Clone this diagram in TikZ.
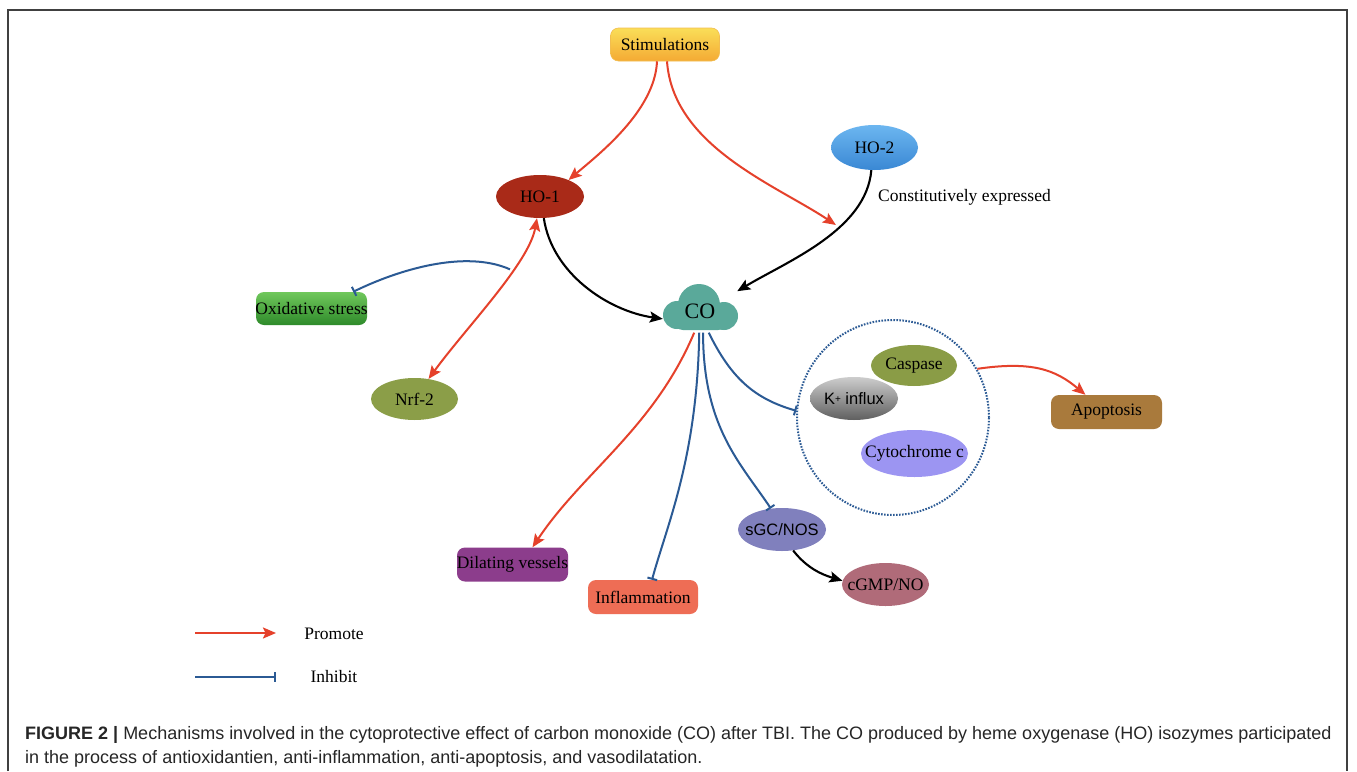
\documentclass[tikz,border=0pt]{standalone}
\usepackage{fontspec}
\setmainfont{Liberation Serif}
\newfontfamily\arialf{Liberation Sans}
\usetikzlibrary{arrows.meta,shapes.geometric,calc}

\definecolor{promo}{HTML}{E5412B}
\definecolor{inhib}{HTML}{2B5A94}
\definecolor{cofill}{HTML}{5AA99A}
\definecolor{captxt}{HTML}{262626}

% label of fixed-size shapes: its width does not enlarge the shape
\newcommand{\fixw}[1]{\makebox[0pt][c]{#1}}

\tikzset{
  lbl/.style={font=\fontsize{17.5}{20}\selectfont, text=black, inner sep=0pt},
  rbox/.style={lbl, rectangle, rounded corners=8pt},
  oval/.style={lbl, ellipse},
  tip/.style={-{Stealth[length=13pt,width=11pt,inset=2.5pt]}},
  promote/.style={draw=promo, line width=2pt, tip},
  inhibit/.style={draw=inhib, line width=2pt, -{Bar[width=10pt,line width=2pt]}},
  plain/.style={draw=black, line width=2.1pt, tip},
}

\begin{document}
\begin{tikzpicture}[x=1pt,y=-1pt]
\useasboundingbox (0,0) rectangle (1357,771);
\fill[white] (0,0) rectangle (1357,771);

% outer frame, open at the bottom
\draw[color=black!75, line width=1.4pt] (8,771) -- (8,10) -- (1347,10) -- (1347,771);

% ---- nodes ----
\node[rbox, minimum width=109pt, minimum height=33pt, top color={rgb,255:red,250;green,222;blue,88}, bottom color={rgb,255:red,244;green,170;blue,52}, draw={rgb,255:red,242;green,190;blue,80}, line width=0.6pt] (stim) at (665,44.5) {Stimulations};
\node[oval, minimum width=88pt, minimum height=43pt, fill={rgb,255:red,169;green,42;blue,24}] (ho1) at (540,196.5) {\fixw{HO-1}};
\node[oval, minimum width=87pt, minimum height=45pt, top color={rgb,255:red,108;green,182;blue,240}, bottom color={rgb,255:red,58;green,136;blue,212}] (ho2) at (874.5,147.5) {\fixw{HO-2}};
\node[lbl, anchor=west] (constit) at (878,197) {Constitutively expressed};

% CO cloud
\coordinate (coc) at (700,313);
\fill[cofill] ($(coc)+(-23,2)$) circle[radius=14];
\fill[cofill] ($(coc)+(-1,-8)$) circle[radius=21];
\fill[cofill] ($(coc)+(24,3)$) circle[radius=14];
\fill[cofill, rounded corners=9pt] ($(coc)+(-26,-4)$) rectangle ($(coc)+(27,17)$);
\node[lbl, font=\fontsize{22}{24}\selectfont, minimum width=74pt, minimum height=43pt] (co) at (700,311) {CO};

\node[rbox, minimum width=111pt, minimum height=33pt, top color={rgb,255:red,112;green,200;blue,92}, bottom color={rgb,255:red,46;green,138;blue,42}] (ox) at (311.5,308.5) {\fixw{Oxidative stress}};
\node[oval, minimum width=87pt, minimum height=42pt, fill={rgb,255:red,139;green,158;blue,72}] (nrf) at (414.5,399) {\fixw{Nrf-2}};

% dotted group
\node[ellipse, draw=inhib, line width=2pt, dash pattern=on 1.6pt off 1.4pt, minimum width=192pt, minimum height=195pt] (grp) at (893,417.5) {};
\node[oval, minimum width=86pt, minimum height=41pt, fill={rgb,255:red,138;green,156;blue,70}] (casp) at (914,365.5) {\fixw{Caspase}};
\node[oval, minimum width=88pt, minimum height=43pt, top color={rgb,255:red,205;green,205;blue,205}, bottom color={rgb,255:red,95;green,95;blue,95}, font=\arialf\fontsize{16.5}{19}\selectfont] (kin) at (854,398.5) {\fixw{K{\fontsize{10}{10}\selectfont\raisebox{1.5pt}{+}} influx}};
\node[oval, minimum width=107pt, minimum height=47pt, fill={rgb,255:red,156;green,149;blue,242}] (cyt) at (914.5,453.5) {\fixw{Cytochrome c}};
\node[rbox, minimum width=111pt, minimum height=34pt, fill={rgb,255:red,169;green,122;blue,60}] (apo) at (1106.5,412) {Apoptosis};

\node[rbox, minimum width=111pt, minimum height=34pt, fill={rgb,255:red,140;green,61;blue,140}] (dil) at (512.5,564.5) {\fixw{Dilating vessels}};
\node[rbox, minimum width=110pt, minimum height=34pt, fill={rgb,255:red,238;green,109;blue,85}] (infl) at (643,597) {Inflammation};
\node[oval, minimum width=88pt, minimum height=43pt, fill={rgb,255:red,128;green,128;blue,189}, font=\arialf\fontsize{16.5}{19}\selectfont] (sgc) at (782,529.5) {\fixw{sGC/NOS}};
\node[oval, minimum width=87pt, minimum height=43pt, fill={rgb,255:red,176;green,107;blue,121}] (cgmp) at (885.5,584.5) {\fixw{cGMP/NO}};

% ---- connectors ----
\draw[plain] (ho2.-98) .. controls +(-5,60) and +(50,-30) .. (co.28)
  coordinate[pos=0.36] (ho2path);
\draw[plain] (ho1.-80) .. controls +(8,55) and +(-55,-8) .. (co.192);
\draw[promote] ([xshift=-8pt]stim.south) .. controls +(-2,50) and +(28,-24) .. (ho1.30);
\draw[promote] ([xshift=2pt]stim.south) .. controls +(6,85) and +(-60,-40) .. ([xshift=-6pt]ho2path);
\draw[promote, {Stealth[length=13pt,width=11pt,inset=2.5pt]}-{Stealth[length=13pt,width=11pt,inset=2.5pt]}] (nrf.55) .. controls +(38,-52) and +(-8,45) .. (ho1.-98)
  coordinate[pos=0.66] (nrfpath);
\draw[inhibit] ([xshift=-3pt]nrfpath) .. controls +(-45,-20) and +(45,-22) .. ([xshift=-14pt]ox.north east);

\draw[promote] (co.-105) .. controls +(-40,95) and +(50,-75) .. ([xshift=20pt]dil.north);
\draw[inhibit] (co.-92) .. controls +(-2,125) and +(15,-55) .. ([xshift=9pt]infl.north);
\draw[inhibit] (co.-82) .. controls +(0,95) and +(-30,-45) .. (sgc.118);
\draw[inhibit] (co.-68) .. controls +(22,45) and +(-42,-12) .. (grp.176);
\draw[promote] (grp.30) .. controls +(55,-8) and +(-30,-25) .. ([xshift=-21pt]apo.north);
\draw[plain] (sgc.-62) .. controls +(14,18) and +(-20,-6) .. (cgmp.175);

% ---- legend ----
\coordinate (lpa) at (195,633);
\coordinate (lpb) at (276,633);
\coordinate (lia) at (195,677);
\coordinate (lib) at (276,677);
\draw[promote] (lpa) -- (lpb);
\draw[inhibit] (lia) -- (lib);
\node[lbl] (lpt) at (334,634) {Promote};
\node[lbl] (lit) at (334,677) {Inhibit};

% ---- caption ----
\node[anchor=base west, inner sep=0pt, text=captxt, font=\arialf\fontsize{18}{21}\selectfont] (cap1) at (25,739)
  {\textbf{FIGURE 2 |} Mechanisms involved in the cytoprotective effect of carbon monoxide (CO) after TBI. The CO produced by heme oxygenase (HO) isozymes participated};
\node[anchor=base west, inner sep=0pt, text=captxt, font=\arialf\fontsize{18}{21}\selectfont] (cap2) at (25,763)
  {in the process of antioxidantien, anti-inflammation, anti-apoptosis, and vasodilatation.};
\end{tikzpicture}
\end{document}
